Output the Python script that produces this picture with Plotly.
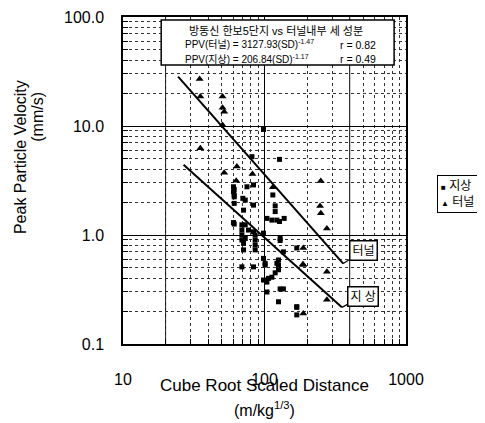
import math
import plotly.graph_objects as go

# --- data ---
ground_x = [60.4, 60.4, 61.1, 61.1, 61.1, 81.5, 127.7, 75.2, 83.6, 61.1, 114.5, 61.1,
            70.3, 73.1, 83.6, 119, 119, 71.1, 104, 112.7, 122.3, 137.7, 127.7, 60.4,
            69.2, 73.1, 77.1, 83.6, 69.2, 69.2, 73.1, 85.9, 98.4, 129, 69.2, 85.9,
            71.1, 85.9, 129, 169, 71.1, 85.9, 136, 98.4, 101, 69.2, 83.6, 125.6,
            125.6, 112.7, 106.7, 104, 104, 129, 136, 125.6, 169, 169, 98.4, 122.3,
            125.6, 119, 101, 98.4, 169]
ground_y = [2.77, 2.49, 2.24, 1.95, 1.26, 5.23, 4.94, 2.77, 2.88, 2.62, 2.33, 2.33,
            2.17, 2.09, 1.88, 1.85, 1.64, 1.69, 1.42, 1.37, 1.37, 1.42, 1.33, 1.30,
            1.24, 1.24, 1.11, 1.07, 1.11, 1.00, 0.93, 1.00, 1.04, 0.93, 0.90, 0.90,
            0.84, 0.81, 0.89, 0.76, 0.73, 0.73, 0.70, 0.61, 0.53, 0.51, 0.51, 0.53,
            0.48, 0.41, 0.40, 0.37, 0.30, 0.32, 0.32, 0.244, 0.22, 0.185, 9.3, 0.55,
            0.59, 0.45, 0.55, 0.386, 0.217]

tunnel_x = [34.8, 35.2, 50.5, 50.5, 51.9, 50.5, 35.2, 63.8, 51.9, 63.1, 82.2, 250,
            114.5, 247, 250, 276, 188, 187, 188, 276, 276, 188]
tunnel_y = [27.0, 18.6, 18.6, 14.7, 13.5, 10.2, 6.24, 4.24, 3.73, 3.15, 3.63, 3.13,
            2.74, 1.85, 1.58, 1.15, 0.76, 0.54, 0.53, 0.46, 0.254, 0.19]

# fitted relations PPV = K * SD^b (from the chart's text box)
tunnel_K, tunnel_b, tunnel_r = 3127.93, -1.47, 0.82
ground_K, ground_b, ground_r = 206.84, -1.17, 0.49
tunnel_fit_x = [24.5, 360]
ground_fit_x = [26.8, 352]
tunnel_fit_y = [tunnel_K * v ** tunnel_b for v in tunnel_fit_x]
ground_fit_y = [ground_K * v ** ground_b for v in ground_fit_x]

series_names = ["지상", "터널"]
x_tickvals = [10, 100, 1000]
x_ticktext = ["10", "100", "1000"]
y_tickvals = [0.1, 1, 10, 100]
y_ticktext = ["0.1", "1.0", "10.0", "100.0"]
x_minor = [m * d for d in (10, 100) for m in range(2, 10)]
y_minor = [m * d for d in (0.1, 1, 10) for m in range(2, 10)]

FONT = "Liberation Sans, Arial, Noto Sans CJK KR, sans-serif"
KFONT = "Liberation Sans, Noto Sans CJK KR, sans-serif"

fig = go.Figure()
fig.add_trace(go.Scatter(x=ground_x, y=ground_y, mode="markers", name=series_names[0],
                         showlegend=False,
                         marker=dict(symbol="square", size=5, color="black")))
fig.add_trace(go.Scatter(x=tunnel_x, y=tunnel_y, mode="markers", name=series_names[1],
                         showlegend=False,
                         marker=dict(symbol="triangle-up", size=7, color="black")))
fig.add_trace(go.Scatter(x=tunnel_fit_x, y=tunnel_fit_y, mode="lines", showlegend=False,
                         line=dict(color="black", width=2)))
fig.add_trace(go.Scatter(x=ground_fit_x, y=ground_fit_y, mode="lines", showlegend=False,
                         line=dict(color="black", width=2)))

axis_common = dict(type="log", showline=True, linecolor="black", linewidth=1.5,
                   mirror=True, showgrid=True, gridcolor="black", gridwidth=1,
                   ticks="", zeroline=False,
                   tickfont=dict(family=FONT, size=16, color="black"))
fig.update_xaxes(range=[1, 3], tickmode="array", tickvals=x_tickvals, ticktext=x_ticktext,
                 ticklabelstandoff=20,
                 minor=dict(tickmode="array", tickvals=x_minor, ticks="inside", ticklen=5,
                            tickcolor="black", showgrid=True, griddash="dot",
                            gridcolor="#333333", gridwidth=1),
                 **axis_common)
fig.update_yaxes(range=[-1, 2], tickmode="array", tickvals=y_tickvals, ticktext=y_ticktext,
                 ticklabelstandoff=14,
                 minor=dict(tickmode="array", tickvals=y_minor, ticks="inside", ticklen=5,
                            tickcolor="black", showgrid=True, griddash="dot",
                            gridcolor="#333333", gridwidth=1),
                 **axis_common)

# emphasised vertical grid lines seen in the reference
for xv in (20, 400):
    fig.add_shape(type="line", xref="x", yref="paper", x0=xv, x1=xv, y0=0, y1=1,
                  line=dict(color="black", width=1), layer="below")

# header box
fig.add_shape(type="rect", xref="paper", yref="paper", x0=0.135, x1=0.958, y0=0.853, y1=0.991,
              line=dict(color="black", width=1.5), fillcolor="white", layer="above")

ann = []
ann.append(dict(xref="paper", yref="paper", x=0.54, y=0.958, xanchor="center", yanchor="middle",
                text="방동신 한보5단지 vs 터널내부 세 성분", showarrow=False,
                font=dict(family=KFONT, size=11, color="black")))
ann.append(dict(xref="paper", yref="paper", x=0.213, y=0.916, xanchor="left", yanchor="middle",
                text=f"PPV({series_names[1]}) = {tunnel_K:.2f}(SD)<sup>{tunnel_b}</sup>",
                showarrow=False, font=dict(family=KFONT, size=10, color="black")))
ann.append(dict(xref="paper", yref="paper", x=0.76, y=0.914, xanchor="left", yanchor="middle",
                text=f"r = {tunnel_r:.2f}", showarrow=False,
                font=dict(family=KFONT, size=10.5, color="black")))
ann.append(dict(xref="paper", yref="paper", x=0.213, y=0.873, xanchor="left", yanchor="middle",
                text=f"PPV({series_names[0]}) = {ground_K:.2f}(SD)<sup>{ground_b}</sup>",
                showarrow=False, font=dict(family=KFONT, size=10, color="black")))
ann.append(dict(xref="paper", yref="paper", x=0.76, y=0.871, xanchor="left", yanchor="middle",
                text=f"r = {ground_r:.2f}", showarrow=False,
                font=dict(family=KFONT, size=10.5, color="black")))

# callouts (annotation positions on log axes are given in log10 units)
ann.append(dict(xref="x", yref="y", x=math.log10(tunnel_fit_x[1]), y=math.log10(tunnel_fit_y[1]),
                text="터널", showarrow=True, arrowhead=0, arrowwidth=1.2, arrowcolor="black",
                ax=20, ay=-13, bordercolor="black", borderwidth=1.5, borderpad=2, bgcolor="white",
                font=dict(family=KFONT, size=12, color="black")))
ann.append(dict(xref="x", yref="y", x=math.log10(ground_fit_x[1]), y=math.log10(ground_fit_y[1]),
                text="지 상", showarrow=True, arrowhead=0, arrowwidth=1.2, arrowcolor="black",
                ax=21, ay=-11, bordercolor="black", borderwidth=1.5, borderpad=2, bgcolor="white",
                font=dict(family=KFONT, size=12, color="black")))

# legend box (drawn compactly as in the reference)
ann.append(dict(xref="paper", yref="paper", x=1.109, y=0.517, xanchor="left", yanchor="top",
                text=f"<span style='font-size:8px'>■</span> {series_names[0]}<br>"
                     f"<span style='font-size:8px'>▲</span> {series_names[1]}",
                align="left", showarrow=False, bordercolor="black", borderwidth=1,
                borderpad=3, bgcolor="white",
                font=dict(family=KFONT, size=12, color="black")))

# axis titles
ann.append(dict(xref="paper", yref="paper", x=0.5, y=-0.128, xanchor="center", yanchor="middle",
                text="Cube Root Scaled Distance", showarrow=False,
                font=dict(family=FONT, size=17, color="black")))
ann.append(dict(xref="paper", yref="paper", x=0.5, y=-0.2, xanchor="center", yanchor="middle",
                text="(m/kg<sup>1/3</sup>)", showarrow=False,
                font=dict(family=FONT, size=16, color="black")))
ann.append(dict(xref="paper", yref="paper", x=-0.36, y=0.572, xanchor="center", yanchor="middle",
                text="Peak Particle Velocity", textangle=-90, showarrow=False,
                font=dict(family=FONT, size=16, color="black")))
ann.append(dict(xref="paper", yref="paper", x=-0.305, y=0.694, xanchor="center", yanchor="middle",
                text="(mm/s)", textangle=-90, showarrow=False,
                font=dict(family=FONT, size=16, color="black")))

# the page body adds an 8px offset, so the figure is 8px smaller and margins shifted
fig.update_layout(
    width=477, height=415,
    margin=dict(l=115, r=79, t=9, b=79, autoexpand=False),
    paper_bgcolor="white", plot_bgcolor="white",
    annotations=ann,
    showlegend=False,
)

fig.write_html("out.html")
